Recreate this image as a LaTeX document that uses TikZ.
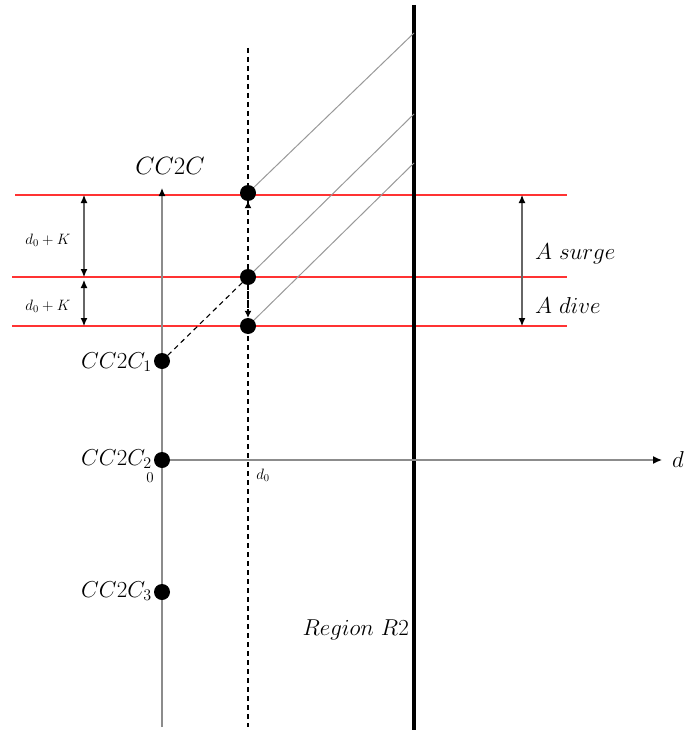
\RequirePackage{fix-cm}
\documentclass[tikz,border=0pt]{standalone}
\usetikzlibrary{arrows.meta}
\begin{document}
\begin{tikzpicture}[x=1pt,y=-1pt,
  dot/.style={circle,fill=black,inner sep=0pt,minimum size=16pt},
  grayline/.style={draw=black!45,line width=1.3pt},
  diag/.style={draw=black!40,line width=1pt},
  redline/.style={draw=red!80,line width=1.2pt},
  dimarrow/.style={draw=black!60,line width=1.1pt,{Latex[length=8pt,width=7pt,color=black]}-{Latex[length=8pt,width=7pt,color=black]}},
  dashline/.style={draw=black,line width=1.1pt,dash pattern=on 5pt off 4pt},
  biglab/.style={font=\fontsize{25}{30}\selectfont,inner sep=1pt},
  midlab/.style={font=\fontsize{23}{27}\selectfont,inner sep=1pt},
  smalllab/.style={font=\fontsize{15}{18}\selectfont,inner sep=1pt}
]
\useasboundingbox (0,0) rectangle (684,733);
% coordinates
\coordinate (axB) at (162,727);
\coordinate (axT) at (162,188);
\coordinate (dT) at (248,48);
\coordinate (dB) at (248,727);
\coordinate (wT) at (414,5);
\coordinate (wB) at (414,730);
\coordinate (xE) at (662,460);
\coordinate (r1L) at (15,195);
\coordinate (r1R) at (567,195);
\coordinate (r2L) at (12,277);
\coordinate (r2R) at (567,277);
\coordinate (r3L) at (12,326);
\coordinate (r3R) at (567,326);
\coordinate (g1) at (414,33);
\coordinate (g2) at (414,114);
\coordinate (g3) at (414,163);
\coordinate (la1) at (84,195);
\coordinate (la2) at (84,277);
\coordinate (la2b) at (84,280);
\coordinate (la3) at (84,326);
\coordinate (ra1) at (522,195);
\coordinate (ra3) at (522,326);
\coordinate (q1) at (248,193);
\coordinate (q2) at (248,277);
\coordinate (q3) at (248,326);
% red lines
\draw[redline] (r1L) -- (r1R);
\draw[redline] (r2L) -- (r2R);
\draw[redline] (r3L) -- (r3R);
% axes
\draw[grayline,-{Latex[length=8pt,width=7pt,color=black]}] (axB) -- (axT);
\draw[dashline] (dT) -- (dB);
\draw[line width=4pt] (wT) -- (wB);
% diagonals
\draw[diag] (q1) -- (g1);
\draw[diag] (q2) -- (g2);
\draw[diag] (q3) -- (g3);
% dots
\node[dot] (p1) at (q1) {};
\node[dot] (p2) at (q2) {};
\node[dot] (p3) at (q3) {};
\node[dot] (c1) at (162,361) {};
\node[dot] (c2) at (162,460) {};
\node[dot] (c3) at (162,592) {};
\draw[grayline,-{Latex[length=9pt,width=8pt,color=black]}] (c2) -- (xE);
\draw[dashline] (c1) -- (p2);
% dashed arrows
\draw[dashline,-{Latex[length=7pt,width=7pt]}] (p2) -- (p1);
\draw[dashline,-{Latex[length=7pt,width=7pt]}] (p2) -- (p3);
% dimension arrows
\draw[dimarrow] (la1) -- (la2);
\draw[dimarrow] (la2b) -- (la3);
\draw[dimarrow] (ra1) -- (ra3);
% labels
\node[biglab] (t0) at (170,166) {$CC2C$};
\node[midlab,anchor=east] (t1) at (153,362) {$CC2C_1$};
\node[midlab,anchor=east] (t2) at (153,459) {$CC2C_2$};
\node[midlab,anchor=east] (t3) at (153,591) {$CC2C_3$};
\node[smalllab] (zero) at (150,478) {$0$};
\node[smalllab] (d0) at (263,475) {$d_0$};
\node[midlab] (dl) at (678,460) {$d$};
\node[smalllab] (k1) at (48,240) {$d_0+K$};
\node[smalllab] (k2) at (48,306) {$d_0+K$};
\node[midlab,anchor=west] (su) at (534,254) {$A\ surge$};
\node[midlab,anchor=west] (di) at (534,306) {$A\ dive$};
\node[midlab,anchor=east] (rg) at (410,630) {$Region\ R2$};
\end{tikzpicture}
\end{document}
